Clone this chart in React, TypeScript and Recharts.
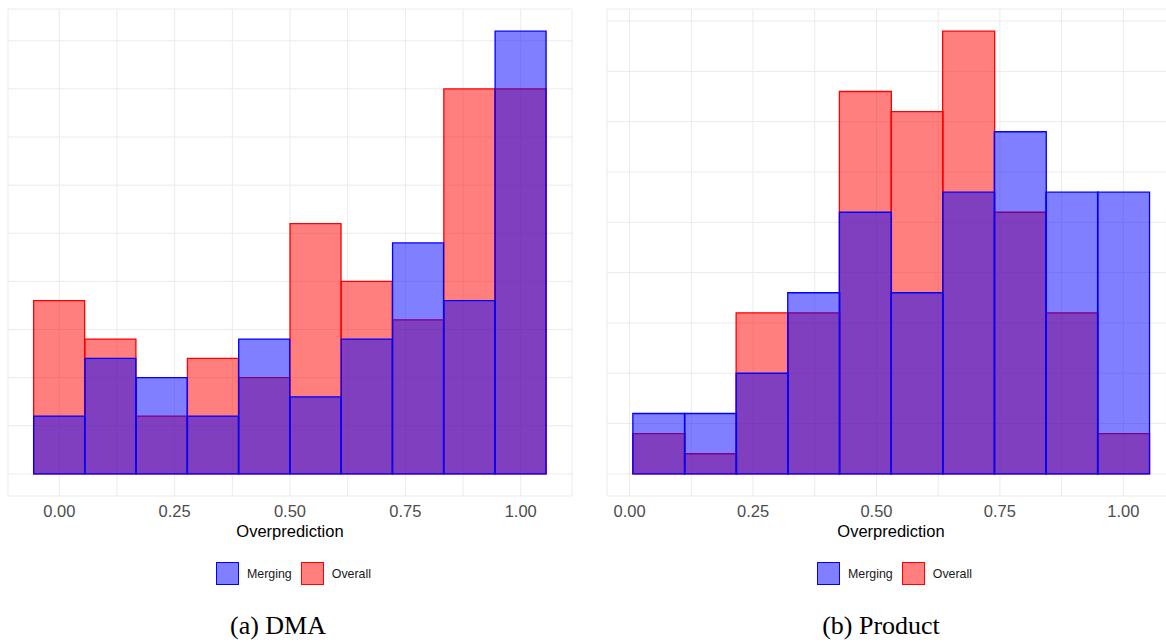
import {
  Bar,
  CartesianGrid,
  ComposedChart,
  Legend,
  XAxis,
  YAxis,
} from 'recharts'

// bin centres (ggplot histogram, 10 bins)
const dmaBins = [0, 0.1111, 0.2222, 0.3333, 0.4444, 0.5556, 0.6667, 0.7778, 0.8889, 1]
const dmaMerging = [3, 6, 5, 3, 7, 4, 7, 12, 9, 23]
const dmaOverall = [9, 7, 3, 6, 5, 13, 10, 8, 20, 20]

const productBins = [0.0588, 0.1634, 0.268, 0.3725, 0.4771, 0.5817, 0.6863, 0.7908, 0.8954, 1]
const productMerging = [3, 3, 5, 9, 13, 9, 14, 17, 14, 14]
const productOverall = [2, 1, 8, 8, 19, 18, 22, 13, 8, 2]

const xTicks = [0, 0.25, 0.5, 0.75, 1]
const xGridTicks = [0, 0.125, 0.25, 0.375, 0.5, 0.625, 0.75, 0.875, 1]
const yGridTicks = [0, 2.5, 5, 7.5, 10, 12.5, 15, 17.5, 20, 22.5]

const SANS = '"Liberation Sans", Arial, sans-serif'
const SERIF = '"Liberation Serif", "Times New Roman", serif'

const seriesColor: Record<string, string> = {
  Merging: '#0000FF',
  Overall: '#FF0000',
}

const LegendContent = ({ payload }: { payload?: Array<{ value?: string }> }) => {
  const items = [...(payload ?? [])].sort((a, b) =>
    String(a.value).localeCompare(String(b.value)),
  )
  return (
    <div
      style={{
        height: 55,
        display: 'flex',
        alignItems: 'center',
        justifyContent: 'center',
        paddingLeft: 16,
        fontFamily: SANS,
        fontSize: 12.4,
        color: '#1a1a1a',
      }}
    >
      {items.map((item) => {
        const c = seriesColor[String(item.value)]
        return (
          <div
            key={String(item.value)}
            style={{ display: 'flex', alignItems: 'center', marginRight: 9 }}
          >
            <span
              style={{
                width: 21,
                height: 21,
                border: `1px solid ${c}`,
                background: c === '#0000FF' ? 'rgba(0,0,255,0.5)' : 'rgba(255,0,0,0.5)',
                display: 'inline-block',
              }}
            />
            <span style={{ marginLeft: 8 }}>{item.value}</span>
          </div>
        )
      })}
    </div>
  )
}

type PanelProps = {
  bins: number[]
  merging: number[]
  overall: number[]
  xDomain: [number, number]
  yDomain: [number, number]
  width: number
  marginRight: number
}

const HistPanel = ({ bins, merging, overall, xDomain, yDomain, width, marginRight }: PanelProps) => {
  const data = bins.map((x, i) => ({ x, Merging: merging[i], Overall: overall[i] }))

  return (
    <ComposedChart
      width={width}
      height={601}
      data={data}
      margin={{ top: 9, right: marginRight, left: 8, bottom: 0 }}
      barCategoryGap={0}
      barGap={0}
    >
      <XAxis
        xAxisId="overall"
        dataKey="x"
        type="number"
        domain={xDomain}
        allowDataOverflow
        ticks={xTicks}
        tickFormatter={(v: number) => v.toFixed(2)}
        tick={{ fontSize: 16.5, fill: '#4D4D4D', fontFamily: SANS }}
        tickLine={false}
        axisLine={false}
        tickMargin={3}
        height={50}
        label={{
          value: 'Overprediction',
          position: 'insideBottom',
          offset: 9,
          style: { fill: '#000000', fontSize: 16.5, fontFamily: SANS },
        }}
      />
      <XAxis
        xAxisId="grid"
        dataKey="x"
        type="number"
        domain={xDomain}
        allowDataOverflow
        ticks={xGridTicks}
        orientation="top"
        height={0}
        hide
      />
      <XAxis
        xAxisId="merging"
        dataKey="x"
        type="number"
        domain={xDomain}
        allowDataOverflow
        orientation="top"
        height={0}
        hide
      />
      <YAxis type="number" domain={yDomain} allowDataOverflow ticks={yGridTicks} hide />
      <CartesianGrid xAxisId="grid" stroke="#EBEBEB" strokeWidth={1} />
      <Bar
        xAxisId="overall"
        dataKey="Overall"
        name="Overall"
        fill="#FF0000"
        fillOpacity={0.5}
        stroke="#FF0000"
        strokeWidth={1.3}
        isAnimationActive={false}
      />
      <Bar
        xAxisId="merging"
        dataKey="Merging"
        name="Merging"
        fill="#0000FF"
        fillOpacity={0.5}
        stroke="#0000FF"
        strokeWidth={1.3}
        isAnimationActive={false}
      />
      <Legend verticalAlign="bottom" content={<LegendContent />} />
    </ComposedChart>
  )
}

const captionStyle: React.CSSProperties = {
  position: 'absolute',
  top: 610,
  height: 32,
  lineHeight: '32px',
  width: 300,
  textAlign: 'center',
  fontFamily: SERIF,
  fontSize: 26,
  color: '#000',
}

export default function App() {
  return (
    <div
      style={{
        position: 'absolute',
        left: 0,
        top: 0,
        width: 1166,
        height: 644,
        overflow: 'hidden',
        background: '#fff',
      }}
    >
      <div style={{ position: 'absolute', left: 0, top: 0 }}>
        <HistPanel
          bins={dmaBins}
          merging={dmaMerging}
          overall={dmaOverall}
          xDomain={[-0.1111, 1.1111]}
          yDomain={[-1.15, 24.15]}
          width={590}
          marginRight={18}
        />
      </div>
      <div style={{ position: 'absolute', left: 599, top: 0 }}>
        <HistPanel
          bins={productBins}
          merging={productMerging}
          overall={productOverall}
          xDomain={[-0.0458, 1.1046]}
          yDomain={[-1.1, 23.1]}
          width={600}
          marginRight={24}
        />
      </div>
      <div style={{ ...captionStyle, left: 128 }}>(a) DMA</div>
      <div style={{ ...captionStyle, left: 731 }}>(b) Product</div>
    </div>
  )
}
